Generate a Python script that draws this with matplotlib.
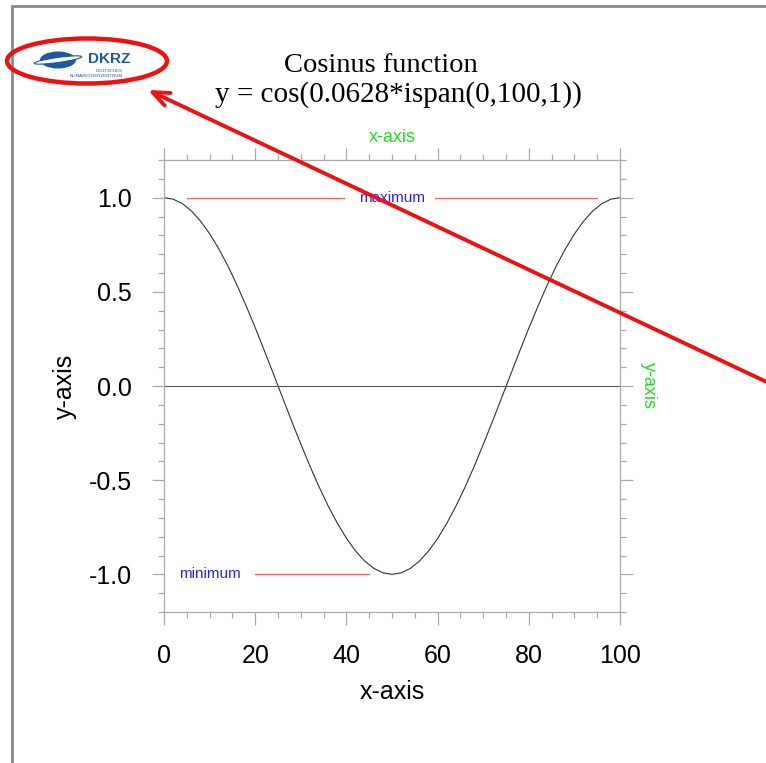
import matplotlib
matplotlib.use("Agg")
import matplotlib.pyplot as plt
from matplotlib.patches import Rectangle, Ellipse, FancyArrowPatch
from matplotlib.ticker import MultipleLocator

plt.rcParams['font.family'] = ['Liberation Sans', 'DejaVu Sans']

# curve values (x every 2 units)
x_vals = list(range(0, 101, 2))
y_vals = [1.000, 0.992, 0.969, 0.930, 0.876, 0.809, 0.729, 0.638, 0.536, 0.426,
          0.310, 0.188, 0.064, -0.062, -0.187, -0.308, -0.425, -0.535, -0.637, -0.728,
          -0.808, -0.876, -0.929, -0.968, -0.992, -1.000, -0.992, -0.969, -0.930, -0.877,
          -0.810, -0.730, -0.639, -0.538, -0.428, -0.311, -0.190, -0.065, 0.060, 0.185,
          0.307, 0.423, 0.534, 0.636, 0.727, 0.807, 0.875, 0.929, 0.968, 0.992, 1.000]

# annotation lines
max_segs = [(5, 39.5), (59.5, 95)]
max_label = (50, 1.0, "maximum")
min_segs = [(20, 45)]
min_label = (10, -1.0, "minimum")

W, H = 766, 763
fig = plt.figure(figsize=(W / 100, H / 100), dpi=100)

def fx(px):
    return px / W

def fy(py):
    return 1 - py / H

# outer gray frame (runs off the right and bottom edges)
fig.patches.append(Rectangle((fx(12), fy(1000)), 2, fy(6) - fy(1000), transform=fig.transFigure,
                             fill=False, edgecolor='#8a8a8a', lw=2))

ax = fig.add_axes([fx(164), fy(612), fx(620) - fx(164), fy(160) - fy(612)])
ax.plot(x_vals, y_vals, color='#333333', lw=0.8)
ax.axhline(0, color='#555555', lw=0.8)
for a, b in max_segs:
    ax.plot([a, b], [1.0, 1.0], color='#ff6060', lw=0.9)
ax.text(max_label[0], max_label[1], max_label[2], color='#2222ff', fontsize=11, ha='center', va='center')
for a, b in min_segs:
    ax.plot([a, b], [-1.0, -1.0], color='#ff6060', lw=0.9)
ax.text(min_label[0], min_label[1], min_label[2], color='#2222ff', fontsize=11, ha='center', va='center')

ax.set_xlim(0, 100)
ax.set_ylim(-1.2, 1.2)
ax.xaxis.set_major_locator(MultipleLocator(20))
ax.xaxis.set_minor_locator(MultipleLocator(5))
ax.yaxis.set_major_locator(MultipleLocator(0.5))
ax.yaxis.set_minor_locator(MultipleLocator(0.1))
ax.yaxis.set_major_formatter(matplotlib.ticker.FormatStrFormatter('%.1f'))
for s in ax.spines.values():
    s.set_color('#aaaaaa')
    s.set_linewidth(0.9)
ax.tick_params(which='both', direction='out', top=True, right=True, color='#aaaaaa', width=0.9)
ax.tick_params(which='major', length=9, labelsize=18, pad=14)
ax.tick_params(which='minor', length=4)
ax.set_xlabel('x-axis', fontsize=18, labelpad=9)
ax.set_ylabel('y-axis', fontsize=18, labelpad=9)
ax.text(0.5, 1.03, 'x-axis', transform=ax.transAxes, color='#22dd22', fontsize=13,
        ha='center', va='bottom')
ax.text(1.062, 0.5, 'y-axis', transform=ax.transAxes, color='#22dd22', fontsize=13,
        ha='center', va='center', rotation=-90)

# title
fig.text(fx(381), fy(66), 'Cosinus function', family='Liberation Serif', fontsize=20.5,
         ha='center', va='center')
fig.text(fx(398), fy(95), 'y = cos(0.0628*ispan(0,100,1))', family='Liberation Serif',
         fontsize=21, ha='center', va='center')

# DKRZ logo (simplified)
fig.patches.append(Ellipse((fx(58), fy(60)), fx(36), fy(0) - fy(17), transform=fig.transFigure,
                           facecolor='#1f5b9c', edgecolor='none'))
fig.patches.append(Ellipse((fx(58), fy(60)), fx(48), fy(0) - fy(5), angle=8, transform=fig.transFigure,
                           facecolor='white', edgecolor='#1f5b9c', lw=0.8))
fig.text(fx(88), fy(59), 'DKRZ', color='#1f5b9c', fontsize=11, fontweight='bold', ha='left', va='center')
fig.text(fx(123), fy(71), 'DEUTSCHES', color='#1f5b9c', fontsize=3.2, ha='right', va='center')
fig.text(fx(123), fy(76), 'KLIMARECHENZENTRUM', color='#1f5b9c', fontsize=3.2, ha='right', va='center')

# red markup: ellipse around logo and arrow
fig.patches.append(Ellipse((fx(87), fy(61)), fx(160), fy(0) - fy(45), transform=fig.transFigure,
                           fill=False, edgecolor='#ee1111', lw=3.2))
fig.patches.append(FancyArrowPatch((fx(790), fy(393)), (fx(148), fy(90)), transform=fig.transFigure,
                                   arrowstyle='->,head_length=12,head_width=5', color='#ee1111',
                                   lw=2.8, shrinkA=0, shrinkB=0))

fig.savefig('out.png', dpi=100)
